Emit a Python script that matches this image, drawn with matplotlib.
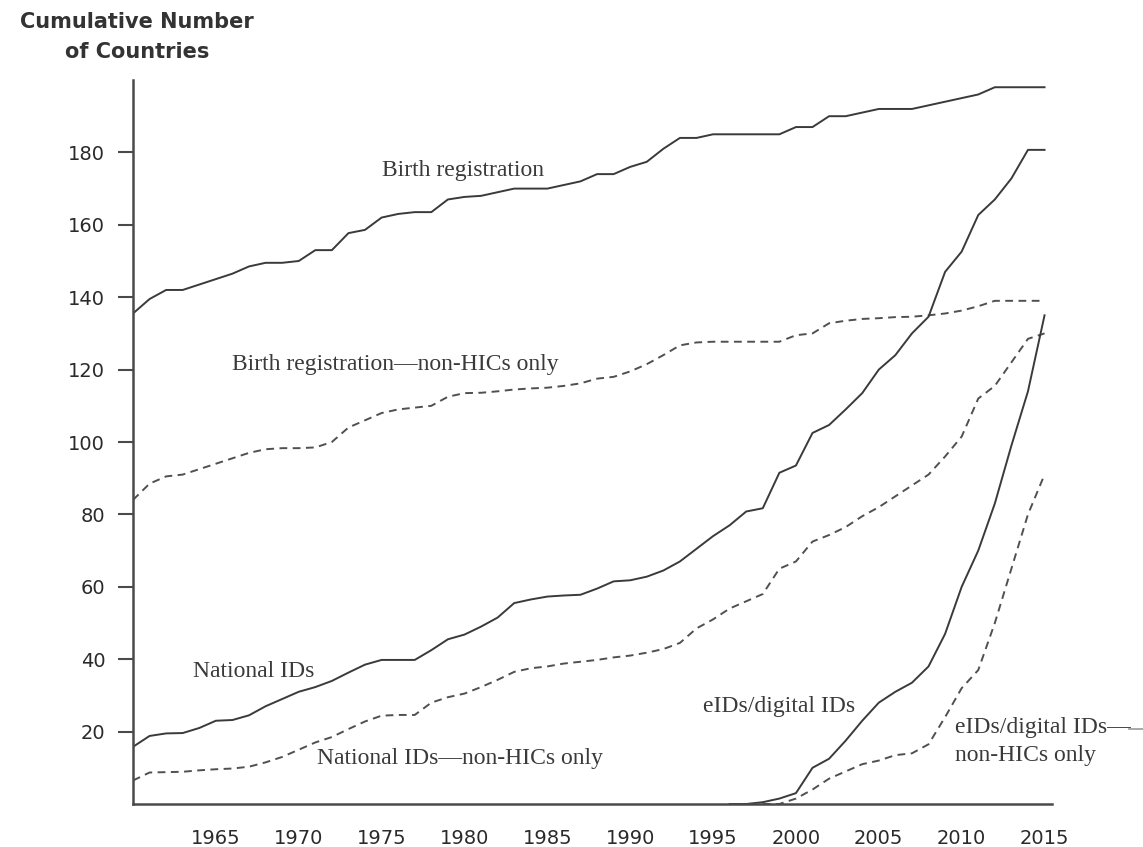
import matplotlib
matplotlib.use("Agg")
import matplotlib.pyplot as plt
from matplotlib.lines import Line2D

years = list(range(1960, 2016))

birth_registration = [135.5, 139.5, 142, 142, 143.5, 145, 146.5, 148.5, 149.5, 149.5,
                      150, 153, 153, 157.7, 158.6, 162, 163, 163.5, 163.5, 167,
                      167.7, 168, 169, 170, 170, 170, 171, 172, 174, 174,
                      176, 177.4, 181, 184, 184, 185, 185, 185, 185, 185,
                      187, 187, 190, 190, 191, 192, 192, 192, 193, 194,
                      195, 196, 198, 198, 198, 198]

birth_registration_non_hic = [84, 88.5, 90.5, 91, 92.5, 94, 95.5, 97, 98, 98.3,
                              98.3, 98.5, 100, 104, 106, 108, 109, 109.5, 110, 112.5,
                              113.5, 113.6, 114, 114.5, 114.8, 115, 115.5, 116.2, 117.5, 118,
                              119.5, 121.5, 124, 126.7, 127.5, 127.7, 127.7, 127.7, 127.7, 127.7,
                              129.5, 130, 132.8, 133.5, 134, 134.2, 134.5, 134.6, 135, 135.5,
                              136.3, 137.5, 139, 139, 139, 139]

national_ids = [15.8, 18.8, 19.5, 19.6, 21, 23, 23.2, 24.5, 27, 29,
                31, 32.3, 34, 36.3, 38.5, 39.8, 39.8, 39.8, 42.5, 45.5,
                46.8, 49, 51.5, 55.5, 56.5, 57.3, 57.6, 57.8, 59.5, 61.5,
                61.8, 62.8, 64.5, 67, 70.5, 74, 77, 80.8, 81.7, 91.5,
                93.5, 102.5, 104.7, 109, 113.5, 120, 124, 130, 134.6, 147,
                152.6, 162.7, 167, 172.8, 180.7, 180.7]

national_ids_non_hic = [6.5, 8.7, 8.8, 8.9, 9.3, 9.6, 9.8, 10.3, 11.5, 13,
                        15, 17, 18.5, 20.7, 22.8, 24.4, 24.6, 24.6, 28, 29.5,
                        30.5, 32.3, 34.3, 36.5, 37.5, 38, 38.8, 39.3, 39.8, 40.5,
                        41, 41.8, 42.8, 44.5, 48.5, 51, 54, 56, 58, 65,
                        67, 72.5, 74.3, 76.5, 79.5, 82, 85, 88, 91, 96,
                        101.5, 112, 115.5, 122, 128.5, 130]

eid_years = list(range(1996, 2016))
eids = [0, 0, 0.5, 1.5, 3, 10, 12.5, 17.5, 23, 28,
        31, 33.5, 38, 47, 60, 70, 83, 99, 114, 135]

eid_non_hic_years = list(range(1998, 2016))
eids_non_hic = [0, 0, 1.5, 4, 7, 9, 11, 12, 13.5, 14,
                16.5, 24, 32, 37, 50, 65, 80, 91]

y_ticks = [20, 40, 60, 80, 100, 120, 140, 160, 180]
x_ticks = [1965, 1970, 1975, 1980, 1985, 1990, 1995, 2000, 2005, 2010, 2015]

W, H = 1143, 847
fig = plt.figure(figsize=(W / 100, H / 100), dpi=100)
ax = fig.add_axes([133 / W, 1 - 804 / H, (1052 - 133) / W, (804 - 80) / H])

solid_col = "#3a3a3a"
dash_col = "#505050"
lw = 1.4
dash = (0, (4.0, 2.8))

ax.plot(years, birth_registration, color=solid_col, lw=lw)
ax.plot(years, birth_registration_non_hic, color=dash_col, lw=lw, linestyle=dash)
ax.plot(years, national_ids, color=solid_col, lw=lw)
ax.plot(years, national_ids_non_hic, color=dash_col, lw=lw, linestyle=dash)
ax.plot(eid_years, eids, color=solid_col, lw=lw)
ax.plot(eid_non_hic_years, eids_non_hic, color=dash_col, lw=lw, linestyle=dash)

ax.set_xlim(1960, 2015.45)
ax.set_ylim(0, 200)

for s in ["top", "right"]:
    ax.spines[s].set_visible(False)
for s in ["left", "bottom"]:
    ax.spines[s].set_color("#4a4a4a")
    ax.spines[s].set_linewidth(1.8)

ax.set_yticks(y_ticks)
ax.set_xticks(x_ticks)
tick_font = dict(family="DejaVu Sans", size=14, color="#2a2a2a")
ax.set_yticklabels([str(v) for v in y_ticks], **tick_font)
ax.set_xticklabels([str(v) for v in x_ticks], **tick_font)
ax.tick_params(axis="y", length=11, width=1.5, color="#4a4a4a", pad=9)
ax.tick_params(axis="x", length=0, pad=18)

ylab = dict(ha="center", va="center", family="DejaVu Sans", weight="bold",
            size=15, color="#333333")
fig.text(137 / W, 1 - 22 / H, "Cumulative Number", **ylab)
fig.text(137 / W, 1 - 52 / H, "of Countries", **ylab)

lab = dict(family="Liberation Serif", size=17, color="#3a3a3a", va="center")
ax.text(1975.0, 175.0, "Birth registration", ha="left", **lab)
ax.text(1966.0, 121.3, "Birth registration\u2014non-HICs only", ha="left", **lab)
ax.text(1963.6, 36.5, "National IDs", ha="left", **lab)
ax.text(1971.1, 12.7, "National IDs\u2014non-HICs only", ha="left", **lab)
ax.text(1994.4, 26.8, "eIDs/digital IDs", ha="left", **lab)
t = ax.text(2009.6, 21.0, "eIDs/digital IDs\u2014", ha="left", clip_on=False, **lab)
ax.text(2009.6, 13.3, "non-HICs only", ha="left", clip_on=False, **lab)

fig.canvas.draw()
bb = t.get_window_extent()
ymid = (bb.y0 + bb.y1) / 2 - 1
fig.add_artist(Line2D([(bb.x1 - 2) / W, 1.0], [ymid / H, ymid / H],
                      transform=fig.transFigure, color="#999999", lw=1.2))

fig.savefig("out.png", dpi=100, facecolor="white")
